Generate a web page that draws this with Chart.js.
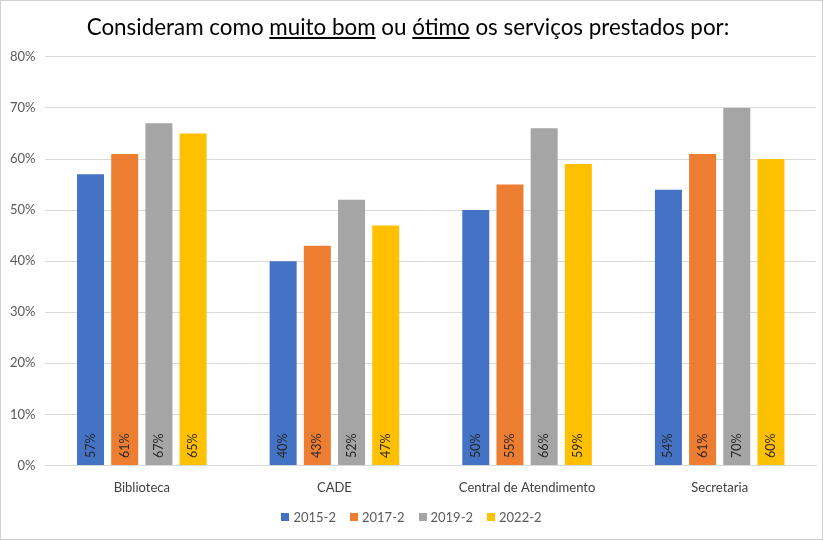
<!DOCTYPE html>
<html>
<head>
<meta charset="utf-8">
<script src="https://cdn.jsdelivr.net/npm/chart.js@4.4.1/dist/chart.umd.min.js"></script>
<style>
  html, body { margin: 0; padding: 0; background: #fff; }
  #wrap { width: 823px; height: 540px; position: relative; }
</style>
</head>
<body>
<div id="wrap"><canvas id="c"></canvas></div>
<script>
const categories = ["Biblioteca", "CADE", "Central de Atendimento", "Secretaria"];
const seriesNames = ["2015-2", "2017-2", "2019-2", "2022-2"];
const s2015 = [57, 40, 50, 54];
const s2017 = [61, 43, 55, 61];
const s2019 = [67, 52, 66, 70];
const s2022 = [65, 47, 59, 60];
const yTicks = [0, 10, 20, 30, 40, 50, 60, 70, 80];
const titleText = "Consideram como muito bom ou ótimo os serviços prestados por:";
const underlined = ["muito bom", "ótimo"];

const colors = ["#4472C4", "#ED7D31", "#A5A5A5", "#FFC000"];
const FONT = "Lato, 'Open Sans', sans-serif";
const TITLE_SIZE = 22.4;

const frame = {
  id: 'frame',
  beforeDraw(chart) {
    const ctx = chart.ctx;
    ctx.save();
    ctx.fillStyle = '#fff';
    ctx.fillRect(0, 0, chart.width, chart.height);
    ctx.strokeStyle = '#d0d0d0';
    ctx.lineWidth = 1;
    ctx.strokeRect(0.5, 0.5, chart.width - 1, chart.height - 1);
    ctx.restore();
  }
};

const barLabels = {
  id: 'barLabels',
  afterDatasetsDraw(chart) {
    const ctx = chart.ctx;
    ctx.save();
    ctx.font = "12.5px " + FONT;
    ctx.fillStyle = '#262626';
    ctx.textAlign = 'left';
    ctx.textBaseline = 'middle';
    chart.data.datasets.forEach((ds, i) => {
      const meta = chart.getDatasetMeta(i);
      meta.data.forEach((bar, j) => {
        ctx.save();
        ctx.translate(bar.x, bar.base - 7);
        ctx.rotate(-Math.PI / 2);
        ctx.fillText(ds.data[j] + '%', 0, 0);
        ctx.restore();
      });
    });
    ctx.restore();
  }
};

const underline = {
  id: 'underline',
  afterDraw(chart) {
    const tb = chart.titleBlock;
    if (!tb) return;
    const ctx = chart.ctx;
    ctx.save();
    ctx.font = TITLE_SIZE + "px " + FONT;
    const full = ctx.measureText(titleText).width;
    const cx = tb.left + tb.width / 2;
    const startX = cx - full / 2;
    const pad = chart.options.plugins.title.padding;
    const cy = tb.top + pad.top + (TITLE_SIZE * 1.2) / 2;
    ctx.strokeStyle = '#000';
    ctx.lineWidth = 2;
    underlined.forEach(w => {
      const idx = titleText.indexOf(w);
      const x0 = startX + ctx.measureText(titleText.slice(0, idx)).width;
      const x1 = x0 + ctx.measureText(w).width;
      const y = Math.round(cy + TITLE_SIZE * 0.45);
      ctx.beginPath();
      ctx.moveTo(x0, y);
      ctx.lineTo(x1, y);
      ctx.stroke();
    });
    ctx.restore();
  }
};

const bottomLegend = {
  id: 'bottomLegend',
  afterDraw(chart) {
    const ctx = chart.ctx;
    ctx.save();
    ctx.font = "13px " + FONT;
    ctx.textBaseline = 'middle';
    ctx.textAlign = 'left';
    const box = 8, gapBox = 4, gapItem = 14;
    const items = chart.data.datasets.map(ds => ({
      text: ds.label, color: ds.backgroundColor, w: ctx.measureText(ds.label).width
    }));
    const total = items.reduce((s, it) => s + box + gapBox + it.w, 0) + gapItem * (items.length - 1);
    let x = chart.width / 2 - total / 2;
    const y = 517;
    items.forEach(it => {
      ctx.fillStyle = it.color;
      ctx.fillRect(Math.round(x), y - 4, box, box);
      ctx.fillStyle = '#595959';
      ctx.fillText(it.text, x + box + gapBox, y + 0.5);
      x += box + gapBox + it.w + gapItem;
    });
    ctx.restore();
  }
};

const datasets = [s2015, s2017, s2019, s2022].map((d, i) => ({
  label: seriesNames[i],
  data: d,
  backgroundColor: colors[i],
  borderWidth: 0,
  categoryPercentage: 0.71,
  barPercentage: 0.79
}));

new Chart(document.getElementById('c'), {
  type: 'bar',
  data: { labels: categories, datasets },
  plugins: [frame, barLabels, underline, bottomLegend],
  options: {
    responsive: true,
    maintainAspectRatio: false,
    animation: false,
    layout: { padding: { left: 0, right: 7, top: 4, bottom: 29 } },
    plugins: {
      tooltip: { enabled: false },
      title: {
        display: true,
        text: titleText,
        color: '#000',
        font: { family: FONT, size: TITLE_SIZE, weight: 'normal' },
        padding: { top: 10, bottom: 16 }
      },
      legend: { display: false }
    },
    scales: {
      x: {
        grid: { display: false, drawTicks: false },
        border: { color: '#d9d9d9' },
        ticks: { color: '#404040', font: { family: FONT, size: 13 }, padding: 15 }
      },
      y: {
        min: 0,
        max: 80,
        afterBuildTicks(axis) { axis.ticks = yTicks.map(v => ({ value: v })); },
        grid: { color: '#d9d9d9', drawTicks: false },
        border: { display: false },
        ticks: {
          color: '#595959',
          font: { family: FONT, size: 13 },
          padding: 10,
          callback: v => v + '%'
        }
      }
    }
  }
});
</script>
</body>
</html>
